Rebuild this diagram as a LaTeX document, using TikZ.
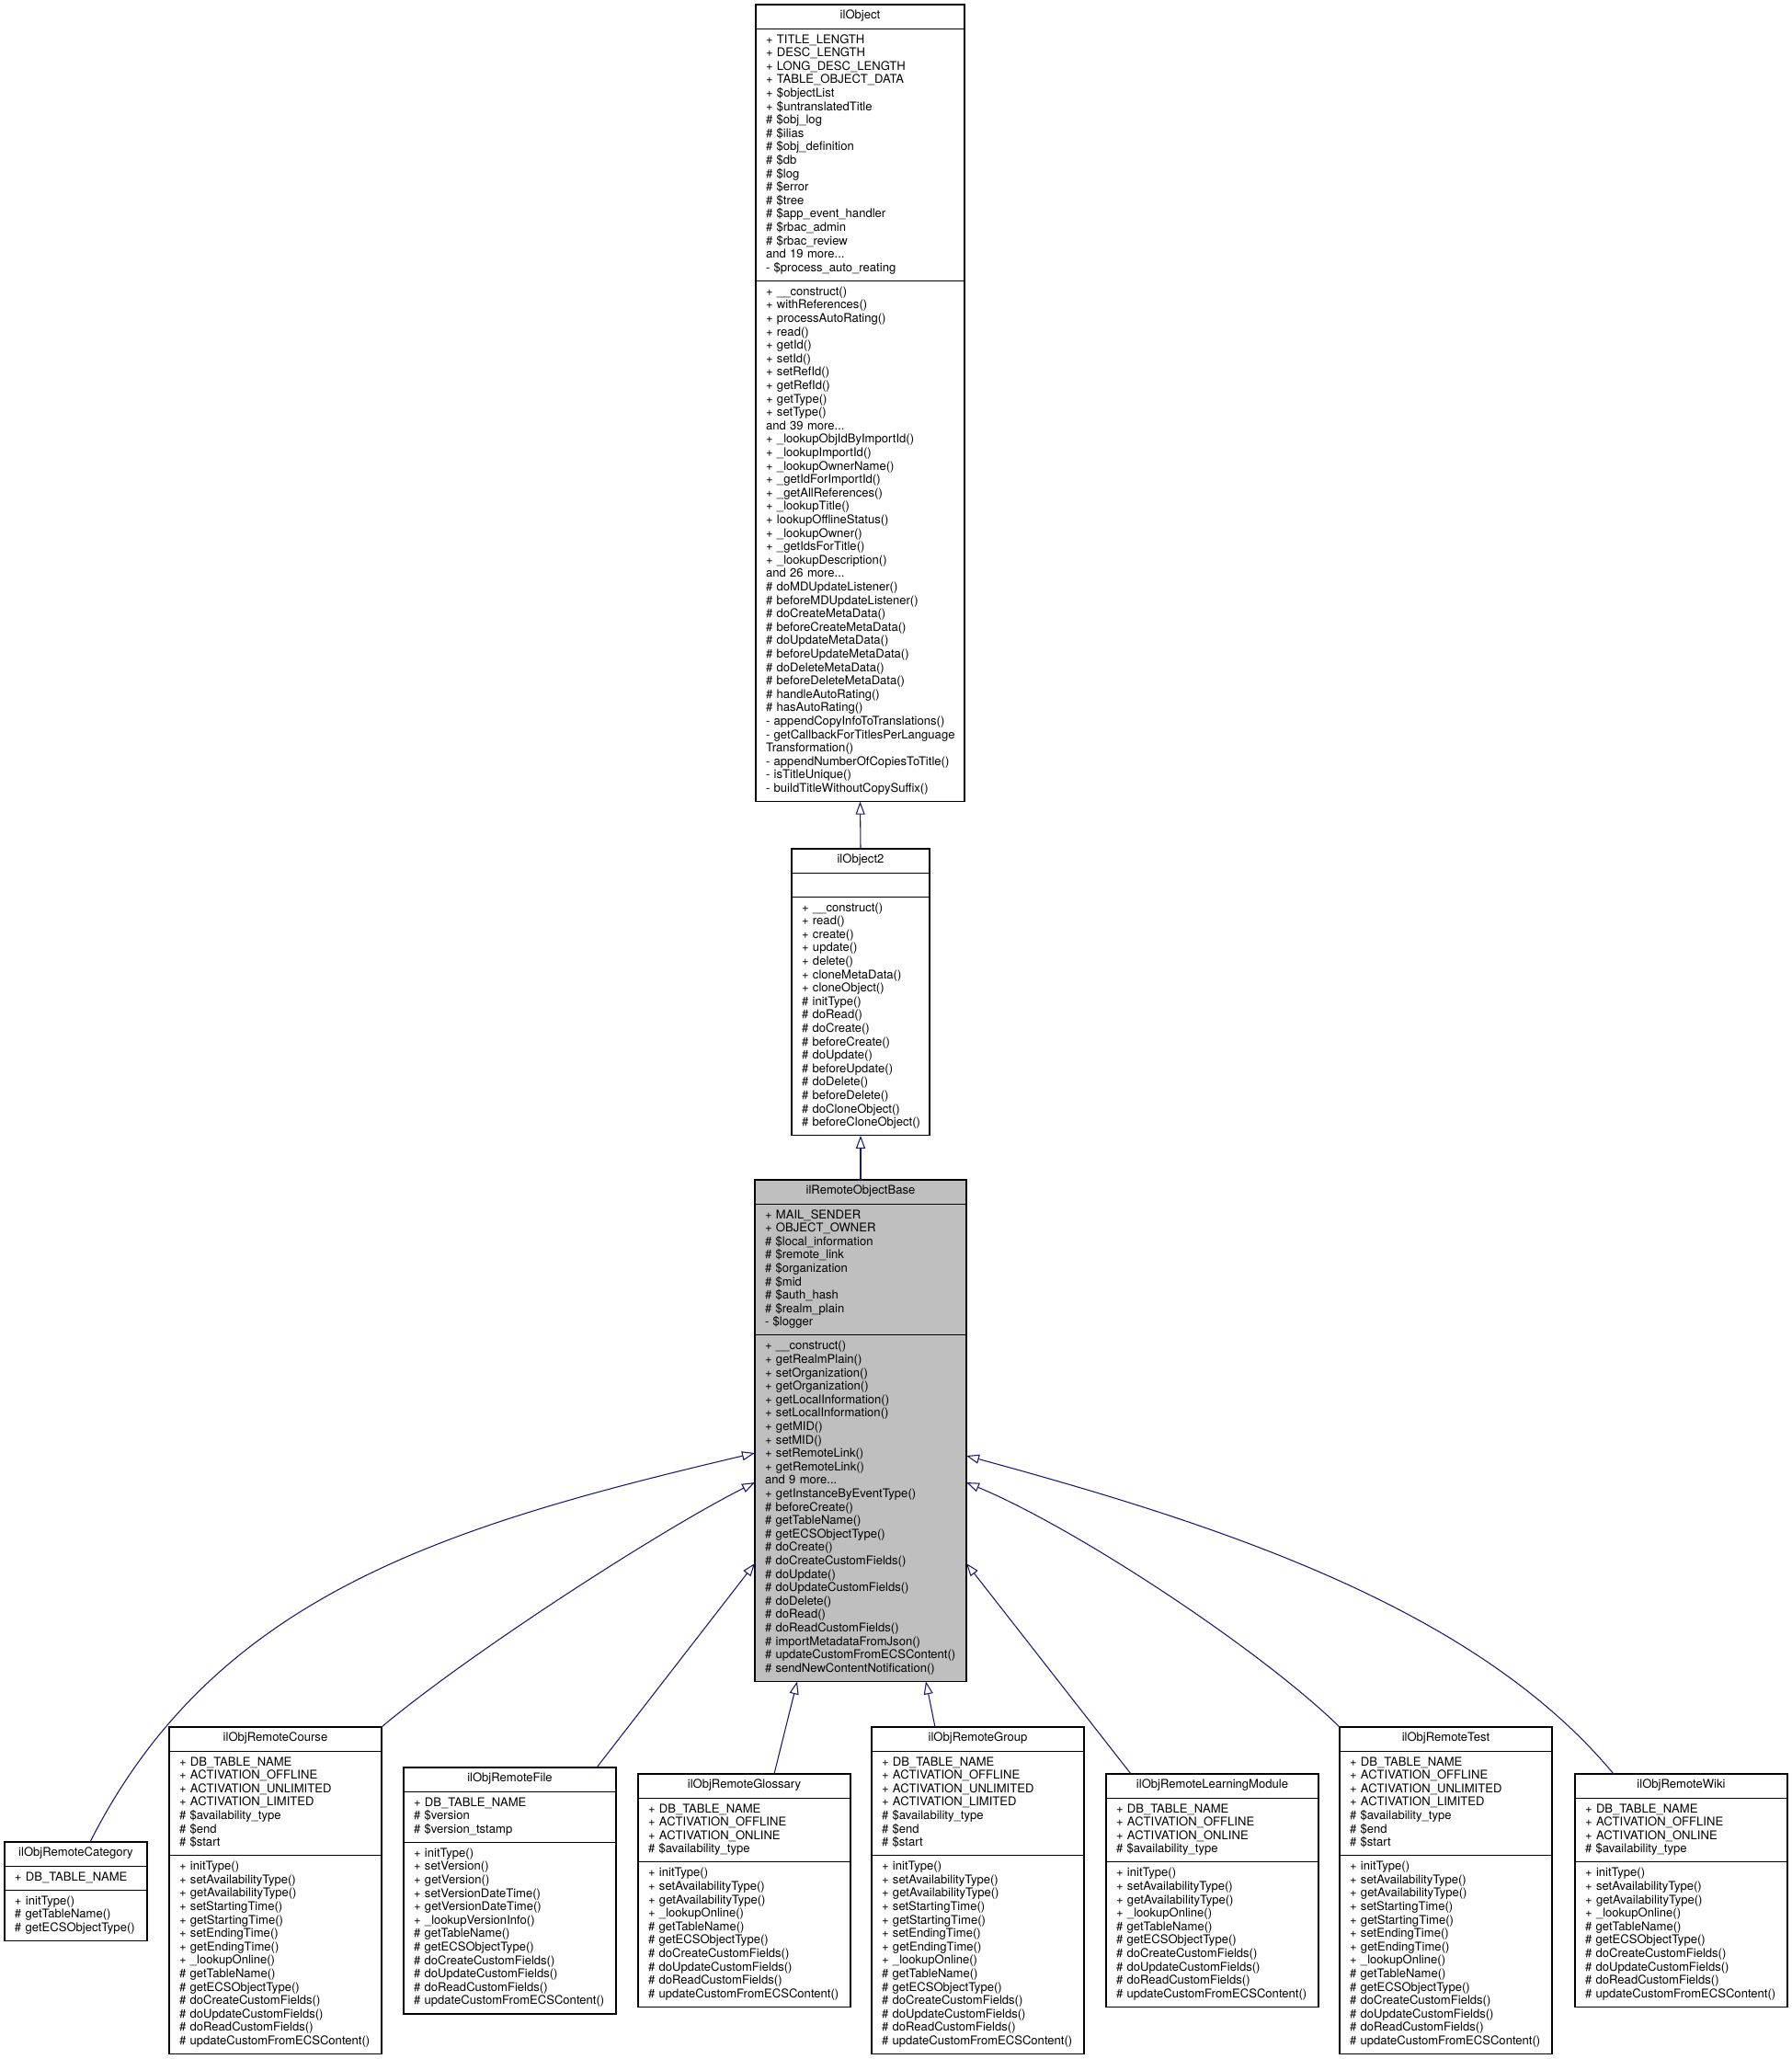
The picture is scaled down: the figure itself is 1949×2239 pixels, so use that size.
\documentclass[tikz,border=0pt]{standalone}
\usepackage{fontspec}
\setmainfont{TeX Gyre Heros}
\usetikzlibrary{shapes.multipart,arrows.meta}
\definecolor{edgeblue}{RGB}{25,25,112}
\setlength{\parindent}{0pt}
\newcommand{\umlcls}[3]{{\centering\strut#1\par}\nodepart{second}\rightskip=0pt plus 1fil minus 40pt\strut#2\strut\nodepart{third}\rightskip=0pt plus 1fil minus 40pt\strut#3\strut}
\newcommand{\limitedattrs}{+ DB\_TABLE\_NAME\\+ ACTIVATION\_OFFLINE\\+ ACTIVATION\_UNLIMITED\\+ ACTIVATION\_LIMITED\\\# \$availability\_type\\\# \$end\\\# \$start}
\newcommand{\limitedops}{+ initType()\\+ setAvailabilityType()\\+ getAvailabilityType()\\+ setStartingTime()\\+ getStartingTime()\\+ setEndingTime()\\+ getEndingTime()\\+ \_lookupOnline()\\\# getTableName()\\\# getECSObjectType()\\\# doCreateCustomFields()\\\# doUpdateCustomFields()\\\# doReadCustomFields()\\\#~updateCustomFromECSContent()}
\newcommand{\onlineattrs}{+ DB\_TABLE\_NAME\\+ ACTIVATION\_OFFLINE\\+ ACTIVATION\_ONLINE\\\# \$availability\_type}
\newcommand{\onlineops}{+ initType()\\+ setAvailabilityType()\\+ getAvailabilityType()\\+ \_lookupOnline()\\\# getTableName()\\\# getECSObjectType()\\\# doCreateCustomFields()\\\# doUpdateCustomFields()\\\# doReadCustomFields()\\\#~updateCustomFromECSContent()}

\begin{document}
\begin{tikzpicture}[x=0.75pt,y=-0.75pt,
    cls/.style={rectangle split, rectangle split parts=3, draw=black, line width=0.8pt,
      fill=white, inner xsep=8.25pt, inner ysep=3.9pt, outer sep=0pt, anchor=north west,
      text width=#1, font=\fontsize{9.8}{10.95}\selectfont},
    inherit/.style={draw=edgeblue, line width=0.8pt, -{Triangle[open,length=10.5pt,width=7.5pt]}}]
      \path[use as bounding box] (0,0) rectangle (1949,2239);

      \node[cls=153.75pt] (obj) at (822,5) {\umlcls{ilObject}{+ TITLE\_LENGTH\\+ DESC\_LENGTH\\+ LONG\_DESC\_LENGTH\\+ TABLE\_OBJECT\_DATA\\+ \$objectList\\+ \$untranslatedTitle\\\# \$obj\_log\\\# \$ilias\\\# \$obj\_definition\\\# \$db\\\# \$log\\\# \$error\\\# \$tree\\\# \$app\_event\_handler\\\# \$rbac\_admin\\\# \$rbac\_review\\and 19 more...\\- \$process\_auto\_reating}{+ \_\_construct()\\+ withReferences()\\+ processAutoRating()\\+ read()\\+ getId()\\+ setId()\\+ setRefId()\\+ getRefId()\\+ getType()\\+ setType()\\and 39 more...\\+ \_lookupObjIdByImportId()\\+ \_lookupImportId()\\+ \_lookupOwnerName()\\+ \_getIdForImportId()\\+ \_getAllReferences()\\+ \_lookupTitle()\\+ lookupOfflineStatus()\\+ \_lookupOwner()\\+ \_getIdsForTitle()\\+ \_lookupDescription()\\and 26 more...\\\# doMDUpdateListener()\\\# beforeMDUpdateListener()\\\# doCreateMetaData()\\\# beforeCreateMetaData()\\\# doUpdateMetaData()\\\# beforeUpdateMetaData()\\\# doDeleteMetaData()\\\# beforeDeleteMetaData()\\\# handleAutoRating()\\\# hasAutoRating()\\-~appendCopyInfoToTranslations()\\-~getCallbackForTitlesPerLanguage\\Transformation()\\-~appendNumberOfCopiesToTitle()\\- isTitleUnique()\\-~buildTitleWithoutCopySuffix()}};
      \node[cls=96pt] (obj2) at (861,923) {\umlcls{ilObject2}{}{+ \_\_construct()\\+ read()\\+ create()\\+ update()\\+ delete()\\+ cloneMetaData()\\+ cloneObject()\\\# initType()\\\# doRead()\\\# doCreate()\\\# beforeCreate()\\\# doUpdate()\\\# beforeUpdate()\\\# doDelete()\\\# beforeDelete()\\\# doCloneObject()\\\#~beforeCloneObject()}};
      \node[cls=156pt, fill=black!25] (base) at (821,1283) {\umlcls{ilRemoteObjectBase}{+ MAIL\_SENDER\\+ OBJECT\_OWNER\\\# \$local\_information\\\# \$remote\_link\\\# \$organization\\\# \$mid\\\# \$auth\_hash\\\# \$realm\_plain\\- \$logger}{+ \_\_construct()\\+ getRealmPlain()\\+ setOrganization()\\+ getOrganization()\\+ getLocalInformation()\\+ setLocalInformation()\\+ getMID()\\+ setMID()\\+ setRemoteLink()\\+ getRemoteLink()\\and 9 more...\\+ getInstanceByEventType()\\\# beforeCreate()\\\# getTableName()\\\# getECSObjectType()\\\# doCreate()\\\# doCreateCustomFields()\\\# doUpdate()\\\# doUpdateCustomFields()\\\# doDelete()\\\# doRead()\\\# doReadCustomFields()\\\# importMetadataFromJson()\\\#~updateCustomFromECSContent()\\\#~sendNewContentNotification()}};

      \node[cls=99.75pt] (cat) at (5,2003) {\umlcls{ilObjRemoteCategory}{+ DB\_TABLE\_NAME}{+ initType()\\\# getTableName()\\\#~getECSObjectType()}};
      \node[cls=156.75pt] (course) at (184,1878) {\umlcls{ilObjRemoteCourse}{\limitedattrs}{\limitedops}};
      \node[cls=156.75pt] (file) at (439,1922) {\umlcls{ilObjRemoteFile}{+ DB\_TABLE\_NAME\\\# \$version\\\# \$version\_tstamp}{+ initType()\\+ setVersion()\\+ getVersion()\\+ setVersionDateTime()\\+ getVersionDateTime()\\+ \_lookupVersionInfo()\\\# getTableName()\\\# getECSObjectType()\\\# doCreateCustomFields()\\\# doUpdateCustomFields()\\\# doReadCustomFields()\\\#~updateCustomFromECSContent()}};
      \node[cls=156.75pt] (gloss) at (694,1929) {\umlcls{ilObjRemoteGlossary}{\onlineattrs}{\onlineops}};
      \node[cls=156.75pt] (group) at (948,1878) {\umlcls{ilObjRemoteGroup}{\limitedattrs}{\limitedops}};
      \node[cls=156.75pt] (lm) at (1203,1929) {\umlcls{ilObjRemoteLearningModule}{\onlineattrs}{\onlineops}};
      \node[cls=156.75pt] (test) at (1457,1878) {\umlcls{ilObjRemoteTest}{\limitedattrs}{\limitedops}};
      \node[cls=156.75pt] (wiki) at (1713,1929) {\umlcls{ilObjRemoteWiki}{\onlineattrs}{\onlineops}};

      \draw[inherit] (obj2.north) -- (obj.south);
      \draw[inherit] (base.north) -- (obj2.south);
      \draw[inherit] (cat.north -| 98,0) .. controls (233,1736) and (481,1660) .. (base.west |- 0,1580);
      \draw[inherit] (course.north east) .. controls (505,1802) and (714,1666) .. (base.west |- 0,1612);
      \draw[inherit] (file.north -| 649,0) -- (base.west |- 0,1700);
      \draw[inherit] (gloss.north -| 842,0) -- (base.south -| 867,0);
      \draw[inherit] (group.north -| 1017,0) -- (base.south -| 1007,0);
      \draw[inherit] (lm.north -| 1230,0) -- (base.east |- 0,1700);
      \draw[inherit] (test.north west) .. controls (1371,1794) and (1171,1662) .. (base.east |- 0,1612);
      \draw[inherit] (wiki.north -| 1755,0) .. controls (1608,1752) and (1339,1661) .. (base.east |- 0,1583);
    \end{tikzpicture}
\end{document}
